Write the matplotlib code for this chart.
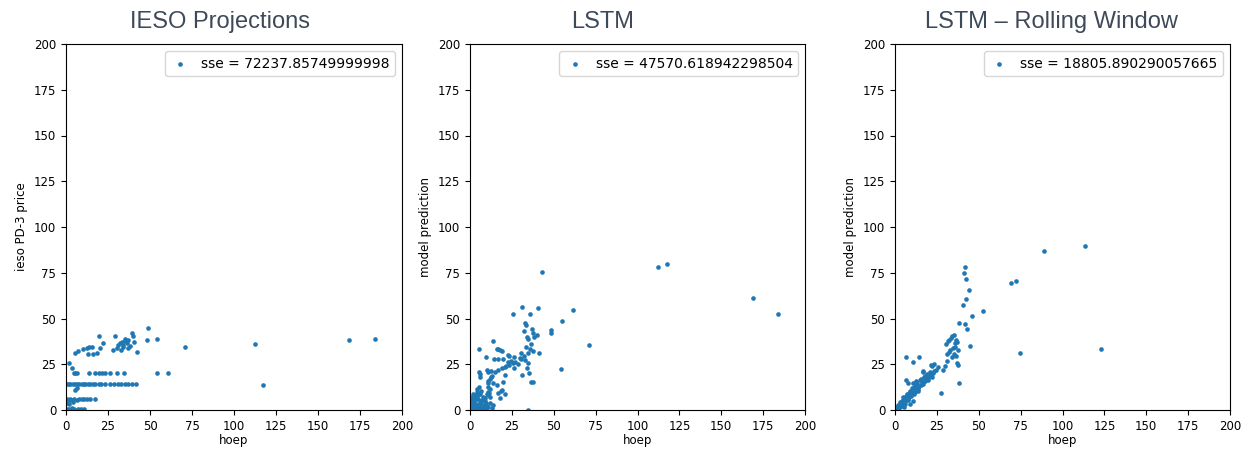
import matplotlib
matplotlib.use("Agg")
import matplotlib.pyplot as plt

# ---------------- data ----------------
ieso_x = [
    # near-zero row
    0.5, 2, 3.5, 5, 7, 9, 11,
    # ~4 row
    0.5, 2, 4,
    # ~6 row
    0.5, 1.5, 2.5, 3.5, 5, 6.5, 8, 9.5, 11, 12.5, 14.5, 17.5,
    # ~11 row
    5.5, 6.5,
    # ~14 row
    0.5, 1.5, 2.5, 4, 5.5, 6.5, 8, 9.5, 10.5, 11.5, 13, 14.5, 16, 17.5,
    19.5, 21, 23, 26, 28.5, 31, 33, 35, 37, 39, 41.5,
    # ~20 row
    4.6, 5.5, 6.5, 13.5, 17.4, 19.4, 21.4, 23.4, 26.4, 30.4, 34.3, 54, 61,
    # misc low
    2, 3.6,
    # upper cluster
    5.4, 7.3, 10.3, 12.3, 13.9, 15.3, 16.3, 13.3, 18.3, 19.8, 20.2, 22.2, 27.8,
    29.2, 30.2, 31.1, 32.1, 33.1, 34.1, 35.1, 36.1, 37.1, 39.1, 39.7, 40.5,
    42.5, 35.1, 32.7, 33.8, 36.8, 38.2,
    # outliers
    49, 48, 54, 71, 112.5, 117, 168.5, 184,
]
ieso_y = [
    0.8, 0.5, 1, 0.5, 0.8, 0.5, 0.6,
    4, 3.5, 4.5,
    5.8, 5.5, 5.8, 5.5, 5.8, 5.5, 5.8, 5.8, 5.8, 5.8, 5.8, 5.8,
    10.9, 12,
    14.2, 14.2, 14.0, 14.2, 14.0, 14.2, 14.2, 14.2, 14.0, 14.2, 14.2, 14.2,
    14.2, 14.2, 14.2, 14.2, 14.2, 14.2, 14.2, 14.2, 14.2, 14.2, 14.2, 14.2,
    14.2,
    20.4, 20.4, 20.4, 20.4, 20.4, 20.4, 20.4, 20.4, 20.4, 20.4, 20.4, 20.4, 20.4,
    25.7, 23,
    31, 32.2, 33.3, 33.7, 34.6, 34.6, 30.6, 30.6, 31, 40.4, 34, 36.4, 32.8,
    40.4, 33.7, 35.5, 36.8, 37.3, 34.6, 37.9, 36.4, 33.7, 41.9, 40.4, 37.3,
    31.9, 39, 32.8, 35.5, 38.5, 35.0,
    45, 38, 39, 34.5, 36, 13.7, 38, 38.8,
]

lstm_x = [
    # dense bottom-left cluster
    0.5, 1, 1.5, 2, 2.5, 3, 3.5, 4, 4.5, 5, 5.5, 6, 6.5, 7, 7.5, 8, 8.5, 9,
    9.5, 10, 10.5, 11, 12, 13, 14, 1, 2, 3, 4, 5, 0.5, 1.5, 3, 6, 7, 2.5,
    0.3, 1.2, 2.2, 4.2, 5.2, 6.8, 8.2, 9.8, 3.8, 11.5,
    # lower-middle
    4.5, 5.5, 6.5, 4.2, 9, 10, 11, 12, 13.9, 15.9, 10.9, 11.9,
    17, 18, 19, 21, 18.5, 12.9, 20.9, 19.5, 10.5, 11, 12,
    5.6, 6, 5.8, 10, 11, 12.5, 12.5, 14.9, 16.9, 18.9, 20.9, 23.3, 25.9,
    26.4, 28.8, 22.5, 24.5,
    # middle band
    13.5, 5.6, 9.4, 16, 17, 18, 18.9, 22.9, 23.5, 14.3, 16.9, 19.9, 26.4,
    29.9, 30.4, 30.4, 32.8, 34.8, 33.8, 31.2, 36.4, 37.8, 32.4, 35, 21.5, 27,
    # upper band
    30.8, 25.9, 35.8, 40.4, 32.8, 33.4, 32.4, 36.8, 37.8, 39.8, 33.8, 34.8,
    33.4, 35.8, 37.8, 41.4, 34.8, 36.4, 38.5,
    # outliers
    42.8, 61.7, 54.7, 48.4, 48.4, 54.1, 71.2, 112, 117.4, 169, 184, 34.8,
]
lstm_y = [
    1, 3, 0.5, 2, 5, 1, 3.5, 0.5, 2, 6, 1.5, 4, 0.8, 2.5, 7, 1, 3, 5,
    0.5, 2, 8, 1.5, 4, 1, 2.5, 7, 9, 6.5, 10, 8.5, 5, 4, 2.5, 9, 5.5, 7.5,
    2.2, 5.8, 0.3, 6.2, 3.2, 4.8, 6.5, 3.8, 8.2, 9.5,
    8, 12.7, 10.5, 11.5, 6.4, 8.5, 10, 7, 14.6, 13.7, 12.7, 11.3,
    9.5, 6.5, 11, 8.5, 10.5, 18.6, 19.1, 15.5, 15, 16, 17,
    21, 18, 19.5, 22, 20.5, 21.5, 18, 20.9, 21.9, 22.8, 23.7, 24.6, 25.9,
    22.8, 25.2, 26.5, 27,
    37.9, 33.5, 28.8, 33.3, 33.6, 33.0, 32.4, 30, 29.5, 27.6, 27.6, 27.6, 28.8,
    28.3, 31, 27.7, 27.5, 25.5, 22.8, 19.1, 15.5, 15.5, 29.5, 20, 24, 26,
    56.5, 52.5, 52.5, 55.6, 47.7, 46.4, 43.3, 44.3, 42.3, 41, 39.7, 38.6,
    34.3, 33.2, 32.4, 31, 31, 36, 40,
    75.2, 54.5, 48.6, 43.7, 42.2, 22.3, 35.5, 78.3, 80, 61, 52.3, 0.2,
]

roll_x = [
    # diagonal dense band
    0.3, 0.8, 1.2, 1.7, 2.2, 2.8, 3.3, 3.9, 4.5, 5.1, 5.7, 6.3, 6.9, 7.5, 8.2,
    8.8, 9.5, 10.2, 10.9, 11.6, 12.3, 13.0, 13.8, 14.5, 15.3, 16.1, 17.0,
    17.8, 18.7, 19.6, 20.5, 21.5, 22.5, 23.5, 24.5,
    0.5, 1.5, 2.5, 3.5, 4.5, 5.5, 6.5, 7.5, 8.5, 9.5, 10.5, 11.5, 12.5, 13.5,
    15, 16.5, 18, 19.5, 21, 22, 1, 2, 3, 4, 6, 8, 10, 12, 14, 9, 11, 4.8,
    10.5, 11.5, 12.5, 5.2, 3.2, 1.8, 7, 9, 13, 15.5, 17.5, 19,
    # scattered low-mid
    6.6, 7.6, 16.5, 16.9, 21.5, 22.3, 23.3, 25.5, 29.9, 28.9, 31.2, 27.5, 38.4,
    6.6, 10.6, 14.2,
    # cluster 30-45
    30.3, 31.5, 32.5, 33.5, 34.2, 35.0, 35.8, 36.5, 37.2, 33, 34.5, 36, 32,
    37.8, 36.8, 37.4, 38.4, 41.8, 43.2, 44.8, 35.5, 36.2, 34, 31,
    # upper arm
    40.8, 42.2, 44.2, 42.2, 41.2, 41.8, 45.8, 52.7,
    # outliers
    69.3, 72.2, 74.6, 89.2, 113.4, 123,
]
roll_y = [
    0.2, 0.9, 1.1, 1.6, 2.0, 2.6, 3.0, 3.6, 4.1, 4.6, 5.1, 5.7, 6.2, 6.7, 7.4,
    7.9, 8.6, 9.2, 9.8, 10.4, 11.1, 11.7, 12.4, 13.0, 13.8, 14.5, 15.3,
    16.0, 16.8, 17.6, 18.5, 19.3, 20.2, 21.1, 22.0,
    1.5, 0.8, 3.0, 2.0, 5.5, 3.8, 7.5, 5.5, 9.5, 7.5, 11.5, 8.8, 13.8, 10.5,
    16.5, 14.0, 18.8, 16.2, 20.5, 18.0, 0.3, 0.6, 1.5, 5.0, 3.5, 6.0, 12.0,
    10.0, 11.5, 3.5, 5.0, 7.0, 14.5, 12.8, 15.8, 1.8, 4.5, 2.5, 8.5, 10.5,
    14.8, 16.8, 18.2, 19.5,
    16.4, 14.9, 20.9, 21.3, 24.5, 24, 25, 23.5, 24, 21.9, 27, 9.5, 14.6,
    29.1, 26, 29.1,
    35.9, 37.5, 38.5, 39.5, 40.5, 41.0, 36.5, 38.0, 37.0, 33, 34, 34.5, 31.5,
    32.8, 25.8, 24.6, 47.7, 47, 44.3, 35, 30.5, 29.5, 29.0, 30.5,
    57.4, 60.7, 65.6, 71.4, 74.7, 78.3, 51.5, 54.3,
    69.6, 70.5, 31, 87, 89.8, 33.3,
]

panel_titles = ["IESO Projections", "LSTM", "LSTM \u2013 Rolling Window"]
ylabels = ["ieso PD-3 price", "model prediction", "model prediction"]
xlabel = "hoep"
sse_labels = ["sse = 72237.85749999998", "sse = 47570.618942298504",
              "sse = 18805.890290057665"]
ticks = [0, 25, 50, 75, 100, 125, 150, 175, 200]

# ---------------- figure ----------------
W, H = 1251, 451
fig = plt.figure(figsize=(W / 100, H / 100), dpi=100)

rects = [(66, 402), (470, 805), (895, 1230)]
top, bottom = 44, 410
title_cx = [220, 603, 1051]
datasets = [(ieso_x, ieso_y), (lstm_x, lstm_y), (roll_x, roll_y)]

for i, ((l, r), (xs, ys)) in enumerate(zip(rects, datasets)):
    ax = fig.add_axes([l / W, (H - bottom) / H, (r - l) / W, (bottom - top) / H])
    ax.scatter(xs, ys, s=11, color="#1f77b4", label=sse_labels[i], linewidths=0)
    ax.set_xlim(0, 200)
    ax.set_ylim(0, 200)
    ax.set_xticks(ticks)
    ax.set_yticks(ticks)
    ax.tick_params(labelsize=8.5, length=3.5)
    ax.set_xlabel(xlabel, fontsize=8.5, labelpad=1)
    ax.set_ylabel(ylabels[i], fontsize=8.5, labelpad=4)
    ax.legend(loc="upper right", fontsize=10, markerscale=1.0,
              handlelength=1.4, handletextpad=0.8, borderpad=0.4)
    fig.text(title_cx[i] / W, 1 - 22 / H, panel_titles[i], ha="center",
             va="center", fontsize=17, color="#3e4a59",
             family="Liberation Sans")

fig.savefig("out.png", dpi=100)
